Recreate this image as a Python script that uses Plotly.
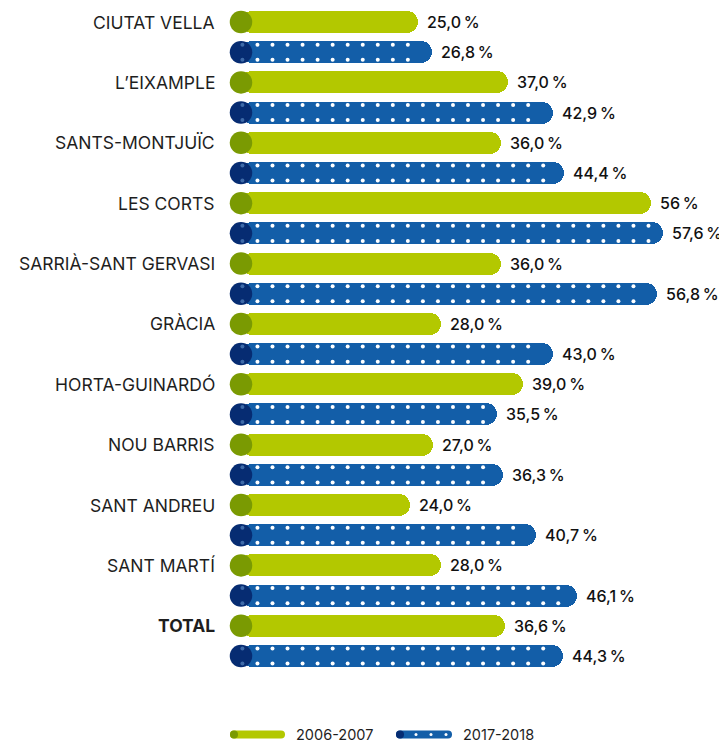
import plotly.graph_objects as go

districts = ["CIUTAT VELLA", "L’EIXAMPLE", "SANTS-MONTJUÏC", "LES CORTS", "SARRIÀ-SANT GERVASI",
             "GRÀCIA", "HORTA-GUINARDÓ", "NOU BARRIS", "SANT ANDREU", "SANT MARTÍ", "<b>TOTAL</b>"]
v2006 = [25.0, 37.0, 36.0, 56.0, 36.0, 28.0, 39.0, 27.0, 24.0, 28.0, 36.6]
v2017 = [26.8, 42.9, 44.4, 57.6, 56.8, 43.0, 35.5, 36.3, 40.7, 46.1, 44.3]
t2006 = ["25,0 %", "37,0 %", "36,0 %", "56 %", "36,0 %", "28,0 %", "39,0 %", "27,0 %", "24,0 %", "28,0 %", "36,6 %"]
t2017 = ["26,8 %", "42,9 %", "44,4 %", "57,6 %", "56,8 %", "43,0 %", "35,5 %", "36,3 %", "40,7 %", "46,1 %", "44,3 %"]
series_names = ["2006-2007", "2017-2018"]

GREEN = "#b3c800"
GREEN_D = "#7a9a02"
BLUE = "#135ea8"
BLUE_D = "#062c72"
FONT = "Inter"

PX_PER = 7.52           # pixels per percentage point
W, H = 719, 734         # page adds an 8px body margin
L, R, T = 222, 0, 0
ROW = 30.19             # pixels per row
n = len(districts)
plot_h = 670
B = H - T - plot_h
plot_w = W - L - R
xmax = plot_w / PX_PER
r_units = 11 / PX_PER   # circle radius in data units

y_g = [2 * i for i in range(n)]
y_b = [2 * i + 1 for i in range(n)]
y_top = -14 / ROW
y_bot = y_top + plot_h / ROW

def fmt(s):
    return s.replace(" %", "\u2009%")

fig = go.Figure()
bw = 0.73
fig.add_trace(go.Bar(y=y_g, x=[v - r_units for v in v2006], base=[r_units] * n, orientation="h",
                     marker=dict(color=GREEN, cornerradius=11, line=dict(width=0)), width=bw,
                     hoverinfo="skip", showlegend=False))
fig.add_trace(go.Bar(y=y_b, x=[v - r_units for v in v2017], base=[r_units] * n, orientation="h",
                     marker=dict(color=BLUE, cornerradius=11, line=dict(width=0)), width=bw,
                     hoverinfo="skip", showlegend=False))

# white dots pattern on blue bars
dx, dy = [], []
for yi, v in zip(y_b, v2017):
    x = 3.65
    while x <= v - 1.6:
        for off in (-0.25, 0.25):
            dx.append(x)
            dy.append(yi + off)
        x += 2.0
fig.add_trace(go.Scatter(x=dx, y=dy, mode="markers", marker=dict(size=4, color="white"),
                         hoverinfo="skip", showlegend=False))

# starting circles
fig.add_trace(go.Scatter(x=[r_units] * n, y=y_g, mode="markers",
                         marker=dict(size=22.5, color=GREEN_D, line=dict(width=0)),
                         hoverinfo="skip", showlegend=False))
fig.add_trace(go.Scatter(x=[r_units] * n, y=y_b, mode="markers",
                         marker=dict(size=22.5, color=BLUE_D, line=dict(width=0)),
                         hoverinfo="skip", showlegend=False))
fig.add_trace(go.Scatter(x=[1.65] * (2 * n), y=[yi + o for yi in y_b for o in (-0.25, 0.25)], mode="markers",
                         marker=dict(size=4, color="#3e6aa8"), hoverinfo="skip", showlegend=False))

ann = []
for i in range(n):
    ann.append(dict(x=-13 / plot_w, xref="paper", y=y_g[i], yref="y", text=districts[i],
                    showarrow=False, xanchor="right", yanchor="middle",
                    font=dict(family=FONT, size=17.5, color="#1e1e1e")))
    ann.append(dict(x=v2006[i], xref="x", y=y_g[i], yref="y", text=fmt(t2006[i]), showarrow=False,
                    xanchor="left", yanchor="middle", xshift=7,
                    font=dict(family=FONT, size=16, color="#111111", weight=500)))
    ann.append(dict(x=v2017[i], xref="x", y=y_b[i], yref="y", text=fmt(t2017[i]), showarrow=False,
                    xanchor="left", yanchor="middle", xshift=7,
                    font=dict(family=FONT, size=16, color="#111111", weight=500)))

# custom legend (paper coordinates)
shapes = []
ly = (plot_h - 726.5) / plot_h
hh = 4 / plot_h
def px(p):
    return p / plot_w
for (x0p, x1p, col, colD, label, dotted) in [(0, 55, GREEN, GREEN_D, series_names[0], False),
                                            (166, 222, BLUE, BLUE_D, series_names[1], True)]:
    x0, x1 = px(x0p), px(x1p)
    k = px(4)
    shapes.append(dict(type="path", xref="paper", yref="paper",
                       path=f"M {x0 + k},{ly - hh} L {x1 - k},{ly - hh} "
                            f"Q {x1},{ly - hh} {x1},{ly} Q {x1},{ly + hh} {x1 - k},{ly + hh} "
                            f"L {x0 + k},{ly + hh} Q {x0},{ly + hh} {x0},{ly} "
                            f"Q {x0},{ly - hh} {x0 + k},{ly - hh} Z",
                       fillcolor=col, line=dict(width=0), layer="above"))
    shapes.append(dict(type="circle", xref="paper", yref="paper", x0=x0, x1=x0 + px(8),
                       y0=ly - hh, y1=ly + hh, fillcolor=colD, line=dict(width=0), layer="above"))
    if dotted:
        for j in range(3):
            cx = x0p + 20 + 15 * j
            shapes.append(dict(type="circle", xref="paper", yref="paper", x0=px(cx - 1.5), x1=px(cx + 1.5),
                               y0=ly - 1.5 / plot_h, y1=ly + 1.5 / plot_h,
                               fillcolor="white", line=dict(width=0), layer="above"))
    ann.append(dict(x=x1, xref="paper", y=ly, yref="paper", text=label, showarrow=False,
                    xanchor="left", yanchor="middle", xshift=9,
                    font=dict(family=FONT, size=14.5, color="#1e1e1e")))

fig.update_layout(
    width=W, height=H, margin=dict(l=L, r=R, t=T, b=B),
    plot_bgcolor="white", paper_bgcolor="white",
    barmode="overlay", bargap=0,
    xaxis=dict(range=[0, xmax], visible=False, fixedrange=True),
    yaxis=dict(range=[y_bot, y_top], visible=False, fixedrange=True),
    annotations=ann, shapes=shapes, showlegend=False,
)
fig.update_traces(cliponaxis=False)
fig.write_html("out.html")
